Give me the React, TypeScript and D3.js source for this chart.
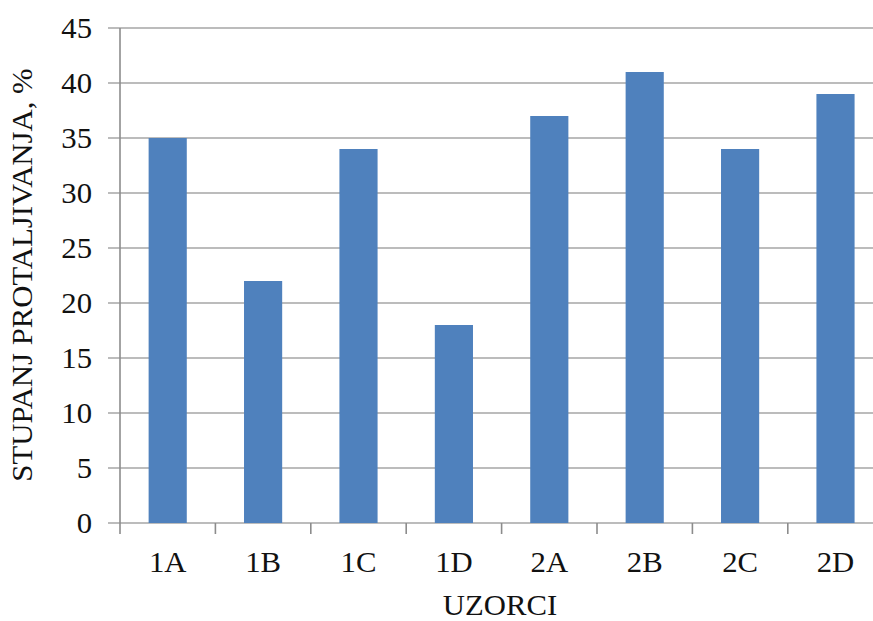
import React from "react";
import * as d3 from "d3";

const categories = ["1A", "1B", "1C", "1D", "2A", "2B", "2C", "2D"];
const values = [35, 22, 34, 18, 37, 41, 34, 39];
const yTicks = [0, 5, 10, 15, 20, 25, 30, 35, 40, 45];
const xTitle = "UZORCI";
const yTitle = "STUPANJ PROTALJIVANJA, %";

const W = 873;
const H = 621;
const left = 120;
const step = 95.4;
const y0 = 523;
const yTop = 28;

export default function App() {
  const x = d3
    .scaleBand<string>()
    .domain(categories)
    .range([left, left + step * categories.length])
    .paddingInner(0.6)
    .paddingOuter(0.3);
  const y = d3.scaleLinear().domain([0, 45]).range([y0, yTop]);
  const font = "'Liberation Serif', 'Times New Roman', serif";
  const tickXs = d3.range(categories.length + 1).map((i) => left + i * x.step());
  const fs = 29;
  const sx = 1.06;

  return (
    <svg
      width={W}
      height={H}
      style={{ position: "absolute", left: 0, top: 0, background: "#fff" }}
      fontFamily={font}
    >
      {yTicks.map((t) => (
        <g key={t}>
          <line x1={108} x2={W} y1={y(t)} y2={y(t)} stroke="#a6a6a6" strokeWidth={1.6} />
          <text
            transform={`translate(92, ${y(t)}) scale(${sx}, 1)`}
            dy="0.35em"
            textAnchor="end"
            fontSize={fs}
            fill="#111"
          >
            {t}
          </text>
        </g>
      ))}
      <line x1={left} x2={left} y1={yTop} y2={y0} stroke="#8c8c8c" strokeWidth={1.6} />
      {tickXs.map((tx, i) => (
        <line key={i} x1={tx} x2={tx} y1={y0} y2={y0 + 11} stroke="#8c8c8c" strokeWidth={1.6} />
      ))}
      {categories.map((c, i) => (
        <rect
          key={c}
          x={x(c)}
          y={y(values[i])}
          width={x.bandwidth()}
          height={y0 - y(values[i])}
          fill="#4F81BD"
        />
      ))}
      {categories.map((c) => (
        <text
          key={c}
          transform={`translate(${(x(c) as number) + x.bandwidth() / 2}, 572) scale(${sx}, 1)`}
          textAnchor="middle"
          fontSize={fs}
          fill="#111"
        >
          {c}
        </text>
      ))}
      <text
        transform={`translate(500, 615) scale(${sx}, 1)`}
        textAnchor="middle"
        fontSize={fs}
        fill="#111"
      >
        {xTitle}
      </text>
      <text
        transform={`translate(32, 275) rotate(-90) scale(${sx}, 1)`}
        textAnchor="middle"
        fontSize={fs}
        fill="#111"
      >
        {yTitle}
      </text>
    </svg>
  );
}
